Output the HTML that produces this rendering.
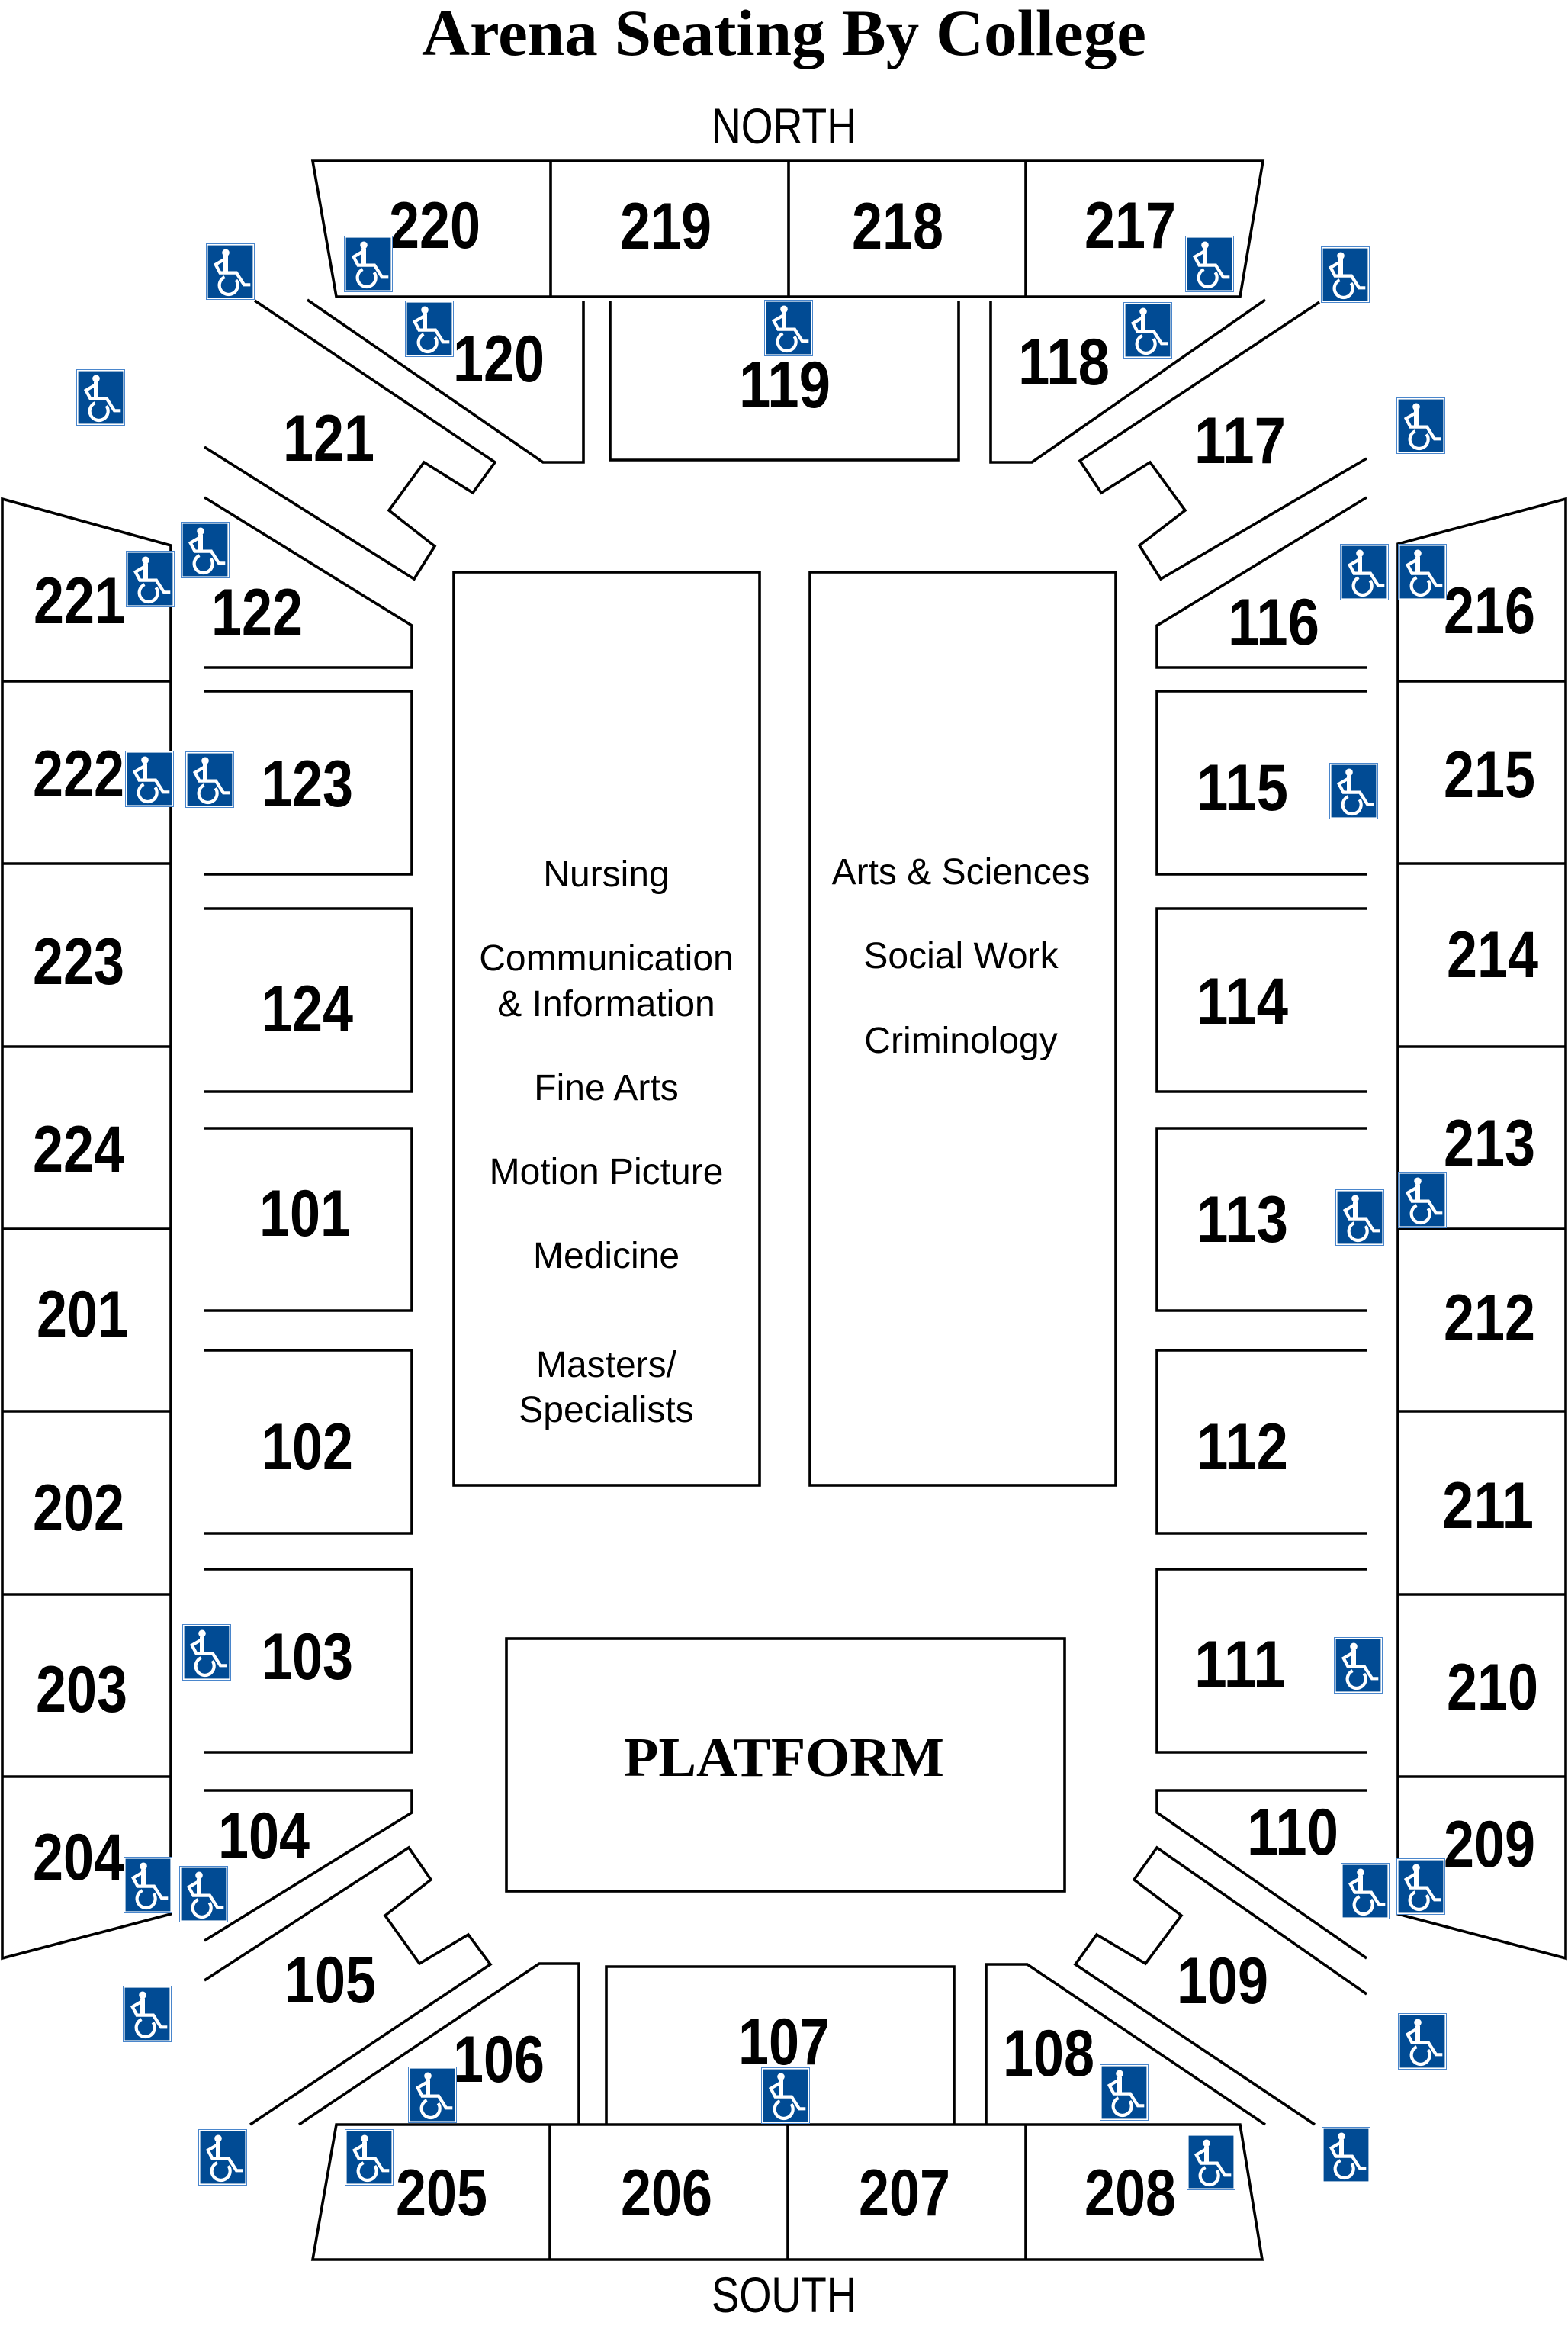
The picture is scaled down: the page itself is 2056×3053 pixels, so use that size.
<!DOCTYPE html>
<html>
<head>
<meta charset="utf-8">
<style>
html,body{margin:0;padding:0;background:#fff;}
svg{display:block;}
.l{fill:none;stroke:#000;stroke-width:3.6;stroke-linejoin:miter;stroke-linecap:butt;}
.n{font-family:"Liberation Sans",Arial,sans-serif;font-weight:bold;font-size:86px;text-anchor:middle;fill:#000;}
.c{font-family:"Liberation Sans",Arial,sans-serif;font-size:48px;text-anchor:middle;fill:#000;}
.d{font-family:"Liberation Sans",Arial,sans-serif;font-size:66px;text-anchor:middle;fill:#000;}
.t{font-family:"Liberation Serif","Times New Roman",serif;font-weight:bold;text-anchor:middle;fill:#000;}
</style>
</head>
<body>
<svg width="2056" height="3053" viewBox="0 0 2056 3053" xmlns="http://www.w3.org/2000/svg">
<defs>
<symbol id="w" viewBox="0 0 64 74">
<rect x="0" y="0" width="64" height="74" fill="#4a86cc"/>
<rect x="1" y="1" width="62" height="72" fill="#fff"/>
<rect x="2.6" y="2.6" width="58.8" height="68.8" fill="#014b94"/>
<circle cx="26" cy="12.3" r="4.8" fill="#fff"/>
<path d="M26 16.5 V38.5" stroke="#fff" stroke-width="6" fill="none"/>
<path d="M24 21 L12.7 27.7 L18.5 38.6 H40 L50 54.3 H58.3" fill="none" stroke="#fff" stroke-width="4.2"/>
<path d="M24.6 44.1 A12 12 0 1 0 39.5 48.1" fill="none" stroke="#fff" stroke-width="4.2"/>
</symbol>
</defs>
<rect width="2056" height="3053" fill="#fff"/>

<!-- Title -->
<text class="t" x="1028" y="72" font-size="86" textLength="950" lengthAdjust="spacingAndGlyphs">Arena Seating By College</text>
<text class="d" x="1028" y="188" textLength="190" lengthAdjust="spacingAndGlyphs">NORTH</text>
<text class="d" x="1028" y="3031" textLength="190" lengthAdjust="spacingAndGlyphs">SOUTH</text>

<!-- Top 2xx row -->
<path class="l" d="M410 211 L1656 211 L1626 389 L441 389 Z"/>
<path class="l" d="M722 211 V389 M1034 211 V389 M1345 211 V389"/>
<!-- Bottom 2xx row -->
<path class="l" d="M441 2785 L1626 2785 L1655 2962 L410 2962 Z"/>
<path class="l" d="M721 2785 V2962 M1033 2785 V2962 M1345 2785 V2962"/>

<!-- Left 2xx column -->
<path class="l" d="M3 654 L224 715 L224 2509 L3 2567 Z"/>
<path class="l" d="M3 893 H224 M3 1132 H224 M3 1372 H224 M3 1611 H224 M3 1850 H224 M3 2090 H224 M3 2329 H224"/>
<!-- Right 2xx column -->
<path class="l" d="M2053 654 L1833 713 L1833 2509 L2053 2567 Z"/>
<path class="l" d="M1833 893 H2053 M1833 1132 H2053 M1833 1372 H2053 M1833 1611 H2053 M1833 1850 H2053 M1833 2090 H2053 M1833 2329 H2053"/>

<!-- Left 1xx column -->
<path class="l" d="M268 652 L540 820 L540 875 L268 875"/>
<path class="l" d="M268 906 H540 V1146 H268"/>
<path class="l" d="M268 1191 H540 V1431 H268"/>
<path class="l" d="M268 1479 H540 V1718 H268"/>
<path class="l" d="M268 1770 H540 V2010 H268"/>
<path class="l" d="M268 2057 H540 V2297 H268"/>
<path class="l" d="M268 2347 H540 V2376 L268 2544"/>
<!-- Right 1xx column -->
<path class="l" d="M1792 652 L1517 820 L1517 875 L1792 875"/>
<path class="l" d="M1792 906 H1517 V1146 H1792"/>
<path class="l" d="M1792 1191 H1517 V1431 H1792"/>
<path class="l" d="M1792 1479 H1517 V1718 H1792"/>
<path class="l" d="M1792 1770 H1517 V2010 H1792"/>
<path class="l" d="M1792 2057 H1517 V2297 H1792"/>
<path class="l" d="M1792 2347 H1517 V2376 L1792 2567"/>

<!-- Upper corner sections -->
<path class="l" d="M334 394 L649 606 L620 646 L556 606 L510 669 L570 716 L543 759 L268 586"/>
<path class="l" d="M403 393 L712 606 L765 606 L765 394"/>
<path class="l" d="M800 394 V603 H1257 V394"/>
<path class="l" d="M1299 394 V606 H1353 L1659 393"/>
<path class="l" d="M1730 396 L1416 604 L1444 646 L1508 606 L1554 669 L1494 715 L1522 759 L1792 601"/>

<!-- Lower corner sections -->
<path class="l" d="M268 2596 L536 2422 L565 2464 L505 2511 L550 2574 L614 2536 L643 2575 L328 2785"/>
<path class="l" d="M392 2785 L707 2574 L759 2574 L759 2785"/>
<path class="l" d="M795 2785 V2578 H1251 V2785"/>
<path class="l" d="M1293 2785 V2575 H1347 L1659 2785"/>
<path class="l" d="M1792 2614 L1517 2422 L1487 2464 L1549 2511 L1502 2574 L1438 2536 L1410 2575 L1724 2785"/>

<!-- Center boxes -->
<rect class="l" x="595" y="750" width="401" height="1197"/>
<rect class="l" x="1062" y="750" width="401" height="1197"/>
<rect class="l" x="664" y="2148" width="732" height="331"/>
<text class="t" x="1028" y="2328" font-size="73" textLength="420" lengthAdjust="spacingAndGlyphs">PLATFORM</text>

<!-- Center text -->
<text class="c" x="795" y="1162">Nursing</text>
<text class="c" x="795" y="1272">Communication</text>
<text class="c" x="795" y="1332">&amp; Information</text>
<text class="c" x="795" y="1442">Fine Arts</text>
<text class="c" x="795" y="1552">Motion Picture</text>
<text class="c" x="795" y="1662">Medicine</text>
<text class="c" x="795" y="1805">Masters/</text>
<text class="c" x="795" y="1864">Specialists</text>
<text class="c" x="1260" y="1159">Arts &amp; Sciences</text>
<text class="c" x="1260" y="1269">Social Work</text>
<text class="c" x="1260" y="1380">Criminology</text>

<!-- Section labels -->
<g class="n">
<text x="570" y="325" textLength="120" lengthAdjust="spacingAndGlyphs">220</text>
<text x="873" y="326" textLength="120" lengthAdjust="spacingAndGlyphs">219</text>
<text x="1177" y="326" textLength="120" lengthAdjust="spacingAndGlyphs">218</text>
<text x="1482" y="325" textLength="120" lengthAdjust="spacingAndGlyphs">217</text>
<text x="654" y="500" textLength="120" lengthAdjust="spacingAndGlyphs">120</text>
<text x="1029" y="534" textLength="120" lengthAdjust="spacingAndGlyphs">119</text>
<text x="1395" y="504" textLength="120" lengthAdjust="spacingAndGlyphs">118</text>
<text x="431" y="604" textLength="120" lengthAdjust="spacingAndGlyphs">121</text>
<text x="1626" y="607" textLength="120" lengthAdjust="spacingAndGlyphs">117</text>
<text x="337" y="832" textLength="120" lengthAdjust="spacingAndGlyphs">122</text>
<text x="1670" y="845" textLength="120" lengthAdjust="spacingAndGlyphs">116</text>
<text x="104" y="817" textLength="120" lengthAdjust="spacingAndGlyphs">221</text>
<text x="1953" y="830" textLength="120" lengthAdjust="spacingAndGlyphs">216</text>
<text x="103" y="1044" textLength="120" lengthAdjust="spacingAndGlyphs">222</text>
<text x="103" y="1290" textLength="120" lengthAdjust="spacingAndGlyphs">223</text>
<text x="103" y="1536" textLength="120" lengthAdjust="spacingAndGlyphs">224</text>
<text x="108" y="1752" textLength="120" lengthAdjust="spacingAndGlyphs">201</text>
<text x="103" y="2006" textLength="120" lengthAdjust="spacingAndGlyphs">202</text>
<text x="107" y="2244" textLength="120" lengthAdjust="spacingAndGlyphs">203</text>
<text x="103" y="2464" textLength="120" lengthAdjust="spacingAndGlyphs">204</text>
<text x="403" y="1057" textLength="120" lengthAdjust="spacingAndGlyphs">123</text>
<text x="403" y="1352" textLength="120" lengthAdjust="spacingAndGlyphs">124</text>
<text x="400" y="1620" textLength="120" lengthAdjust="spacingAndGlyphs">101</text>
<text x="403" y="1926" textLength="120" lengthAdjust="spacingAndGlyphs">102</text>
<text x="403" y="2201" textLength="120" lengthAdjust="spacingAndGlyphs">103</text>
<text x="346" y="2436" textLength="120" lengthAdjust="spacingAndGlyphs">104</text>
<text x="433" y="2625" textLength="120" lengthAdjust="spacingAndGlyphs">105</text>
<text x="654" y="2729" textLength="120" lengthAdjust="spacingAndGlyphs">106</text>
<text x="1028" y="2706" textLength="120" lengthAdjust="spacingAndGlyphs">107</text>
<text x="1375" y="2721" textLength="120" lengthAdjust="spacingAndGlyphs">108</text>
<text x="1603" y="2626" textLength="120" lengthAdjust="spacingAndGlyphs">109</text>
<text x="1695" y="2431" textLength="120" lengthAdjust="spacingAndGlyphs">110</text>
<text x="1626" y="2211" textLength="120" lengthAdjust="spacingAndGlyphs">111</text>
<text x="1629" y="1926" textLength="120" lengthAdjust="spacingAndGlyphs">112</text>
<text x="1629" y="1628" textLength="120" lengthAdjust="spacingAndGlyphs">113</text>
<text x="1629" y="1342" textLength="120" lengthAdjust="spacingAndGlyphs">114</text>
<text x="1629" y="1062" textLength="120" lengthAdjust="spacingAndGlyphs">115</text>
<text x="1953" y="1045" textLength="120" lengthAdjust="spacingAndGlyphs">215</text>
<text x="1957" y="1281" textLength="120" lengthAdjust="spacingAndGlyphs">214</text>
<text x="1953" y="1528" textLength="120" lengthAdjust="spacingAndGlyphs">213</text>
<text x="1953" y="1757" textLength="120" lengthAdjust="spacingAndGlyphs">212</text>
<text x="1951" y="2003" textLength="120" lengthAdjust="spacingAndGlyphs">211</text>
<text x="1957" y="2241" textLength="120" lengthAdjust="spacingAndGlyphs">210</text>
<text x="1953" y="2447" textLength="120" lengthAdjust="spacingAndGlyphs">209</text>
<text x="579" y="2904" textLength="120" lengthAdjust="spacingAndGlyphs">205</text>
<text x="874" y="2904" textLength="120" lengthAdjust="spacingAndGlyphs">206</text>
<text x="1186" y="2904" textLength="120" lengthAdjust="spacingAndGlyphs">207</text>
<text x="1482" y="2904" textLength="120" lengthAdjust="spacingAndGlyphs">208</text>
</g>

<!-- Wheelchair icons -->
<use href="#w" x="451" y="309" width="64" height="74"/>
<use href="#w" x="270" y="319" width="64" height="74"/>
<use href="#w" x="531" y="394" width="64" height="74"/>
<use href="#w" x="100" y="484" width="64" height="74"/>
<use href="#w" x="1002" y="393" width="64" height="74"/>
<use href="#w" x="237" y="684" width="64" height="74"/>
<use href="#w" x="165" y="722" width="64" height="74"/>
<use href="#w" x="1554" y="309" width="64" height="74"/>
<use href="#w" x="1732" y="323" width="64" height="74"/>
<use href="#w" x="1473" y="396" width="64" height="74"/>
<use href="#w" x="1831" y="521" width="64" height="74"/>
<use href="#w" x="1757" y="713" width="64" height="74"/>
<use href="#w" x="1833" y="713" width="64" height="74"/>
<use href="#w" x="164" y="984" width="64" height="74"/>
<use href="#w" x="243" y="985" width="64" height="74"/>
<use href="#w" x="1743" y="1000" width="64" height="74"/>
<use href="#w" x="1751" y="1559" width="64" height="74"/>
<use href="#w" x="1833" y="1536" width="64" height="74"/>
<use href="#w" x="239" y="2129" width="64" height="74"/>
<use href="#w" x="162" y="2434" width="64" height="74"/>
<use href="#w" x="235" y="2446" width="64" height="74"/>
<use href="#w" x="161" y="2603" width="64" height="74"/>
<use href="#w" x="535" y="2709" width="64" height="74"/>
<use href="#w" x="260" y="2791" width="64" height="74"/>
<use href="#w" x="452" y="2791" width="64" height="74"/>
<use href="#w" x="998" y="2710" width="64" height="74"/>
<use href="#w" x="1749" y="2146" width="64" height="74"/>
<use href="#w" x="1758" y="2442" width="64" height="74"/>
<use href="#w" x="1831" y="2436" width="64" height="74"/>
<use href="#w" x="1833" y="2639" width="64" height="74"/>
<use href="#w" x="1442" y="2706" width="64" height="74"/>
<use href="#w" x="1556" y="2797" width="64" height="74"/>
<use href="#w" x="1733" y="2788" width="64" height="74"/>
</svg>
</body>
</html>
